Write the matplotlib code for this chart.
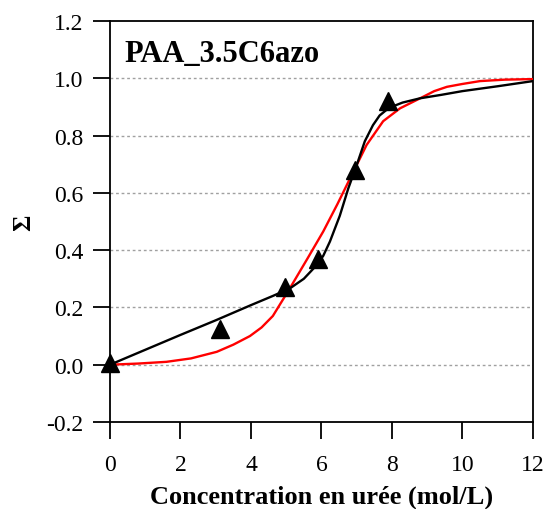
import matplotlib
matplotlib.use("Agg")
import matplotlib.pyplot as plt

# Measured points (triangles)
conc_pts = [0.0, 3.12, 4.96, 5.9, 6.95, 7.89]
sigma_pts = [0.005, 0.125, 0.27, 0.37, 0.68, 0.92]

# Black fit curve
black_x = [0.0, 1.0, 2.0, 3.0, 4.0, 4.62, 5.1, 5.5, 5.86, 6.05, 6.24, 6.52, 6.76,
           7.0, 7.23, 7.46, 7.65, 7.85, 8.05, 8.3, 8.8, 9.4, 10.0, 11.0, 12.0]
black_y = [0.0, 0.052, 0.104, 0.155, 0.208, 0.24, 0.266, 0.3, 0.347, 0.38, 0.43,
           0.52, 0.615, 0.697, 0.78, 0.836, 0.87, 0.89, 0.903, 0.915, 0.93,
           0.942, 0.955, 0.972, 0.99]

# Red fit curve
red_x = [0.0, 0.8, 1.6, 2.3, 3.03, 3.5, 3.97, 4.3, 4.62, 5.1, 5.6, 6.05, 6.45,
         6.81, 7.28, 7.75, 8.23, 8.8, 9.2, 9.56, 10.0, 10.5, 11.2, 12.0]
red_y = [0.0, 0.004, 0.01, 0.022, 0.045, 0.07, 0.10, 0.13, 0.17, 0.266, 0.37,
         0.465, 0.56, 0.65, 0.767, 0.85, 0.895, 0.93, 0.955, 0.97, 0.98,
         0.99, 0.995, 0.997]

plt.rcParams["font.family"] = ["Liberation Serif", "DejaVu Serif"]

fig = plt.figure(figsize=(5.5, 5.1), dpi=100)
ax = fig.add_axes([0.2, 0.1706, 0.769, 0.7864])

ax.plot(red_x, red_y, color="#ff0000", linewidth=1.7, zorder=3)
ax.plot(black_x, black_y, color="black", linewidth=1.7, zorder=4)
ax.plot(conc_pts, sigma_pts, linestyle="none", marker="^", markersize=13,
        color="black", zorder=5, clip_on=False)

ax.set_xlim(0, 12)
ax.set_ylim(-0.2, 1.2)
ax.set_xticks(range(0, 13, 2))
y_ticks = [-0.2, 0.0, 0.2, 0.4, 0.6, 0.8, 1.0, 1.2]
ax.set_yticks(y_ticks)
ax.set_yticklabels([f"{v:.1f}" for v in y_ticks])

for y in [0.0, 0.2, 0.4, 0.6, 0.8, 1.0]:
    ax.axhline(y, color="#a0a0a0", linestyle=(0, (2, 2)), linewidth=1, zorder=1)

ax.tick_params(axis="both", direction="out", length=12, width=1.3,
               labelsize=17)
ax.tick_params(axis="x", pad=11)
ax.tick_params(axis="y", pad=7)
for side in ax.spines.values():
    side.set_linewidth(1.3)

ax.set_xlabel("Concentration en urée (mol/L)", fontsize=19, fontweight="bold",
              labelpad=7)
ax.set_ylabel("Σ", fontsize=18, fontweight="bold", labelpad=8)

ax.text(0.035, 0.955, "PAA_3.5C6azo", transform=ax.transAxes, fontsize=22,
        fontweight="bold", va="top", ha="left")

fig.savefig("out.png", dpi=100)
